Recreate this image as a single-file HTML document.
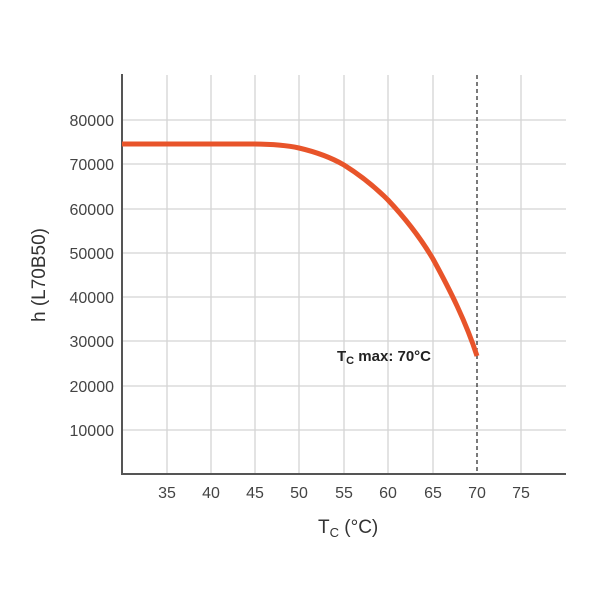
<!DOCTYPE html><html><head><style>body{margin:0;background:#fff}</style></head><body>
<svg width="600" height="600" xmlns="http://www.w3.org/2000/svg" font-family="Liberation Sans, sans-serif">
<g stroke="#d4d4d4" stroke-width="1.3">
<line x1="167" y1="75" x2="167" y2="474"/><line x1="211" y1="75" x2="211" y2="474"/><line x1="255" y1="75" x2="255" y2="474"/><line x1="299" y1="75" x2="299" y2="474"/><line x1="344" y1="75" x2="344" y2="474"/><line x1="388" y1="75" x2="388" y2="474"/><line x1="433" y1="75" x2="433" y2="474"/><line x1="521" y1="75" x2="521" y2="474"/>
<line x1="122" y1="120" x2="566" y2="120"/><line x1="122" y1="164" x2="566" y2="164"/><line x1="122" y1="209" x2="566" y2="209"/><line x1="122" y1="253" x2="566" y2="253"/><line x1="122" y1="297" x2="566" y2="297"/><line x1="122" y1="341" x2="566" y2="341"/><line x1="122" y1="386" x2="566" y2="386"/><line x1="122" y1="430" x2="566" y2="430"/>
</g>
<line x1="477" y1="75" x2="477" y2="474" stroke="#333" stroke-width="1.3" stroke-dasharray="4,3"/>
<line x1="122" y1="74" x2="122" y2="475" stroke="#555" stroke-width="2"/>
<line x1="121" y1="474" x2="566" y2="474" stroke="#555" stroke-width="2"/>
<path d="M122,144 L250,144 C275,144 290,146 299,148 C316,152 332,158 344,165 C360,175 375,187 388,200 C405,218 420,237 433,259 C450,290 466,322 477,356" fill="none" stroke="#e8542a" stroke-width="5"/>
<g font-size="16" fill="#444" text-anchor="end">
<text x="114" y="126">80000</text><text x="114" y="170">70000</text><text x="114" y="215">60000</text><text x="114" y="259">50000</text><text x="114" y="303">40000</text><text x="114" y="347">30000</text><text x="114" y="392">20000</text><text x="114" y="436">10000</text>
</g>
<g font-size="16" fill="#444" text-anchor="middle">
<text x="167" y="498">35</text><text x="211" y="498">40</text><text x="255" y="498">45</text><text x="299" y="498">50</text><text x="344" y="498">55</text><text x="388" y="498">60</text><text x="433" y="498">65</text><text x="477" y="498">70</text><text x="521" y="498">75</text>
</g>
<text x="337" y="361" font-size="15" font-weight="bold" fill="#222">T<tspan font-size="11" dy="3">C</tspan><tspan dy="-3"> max: 70°C</tspan></text>
<text x="318" y="533" font-size="19" fill="#333">T<tspan font-size="13" dy="4">C</tspan><tspan dy="-4"> (°C)</tspan></text>
<text transform="translate(45,275) rotate(-90)" text-anchor="middle" font-size="19" fill="#333">h (L70B50)</text>
</svg>
</body></html>
